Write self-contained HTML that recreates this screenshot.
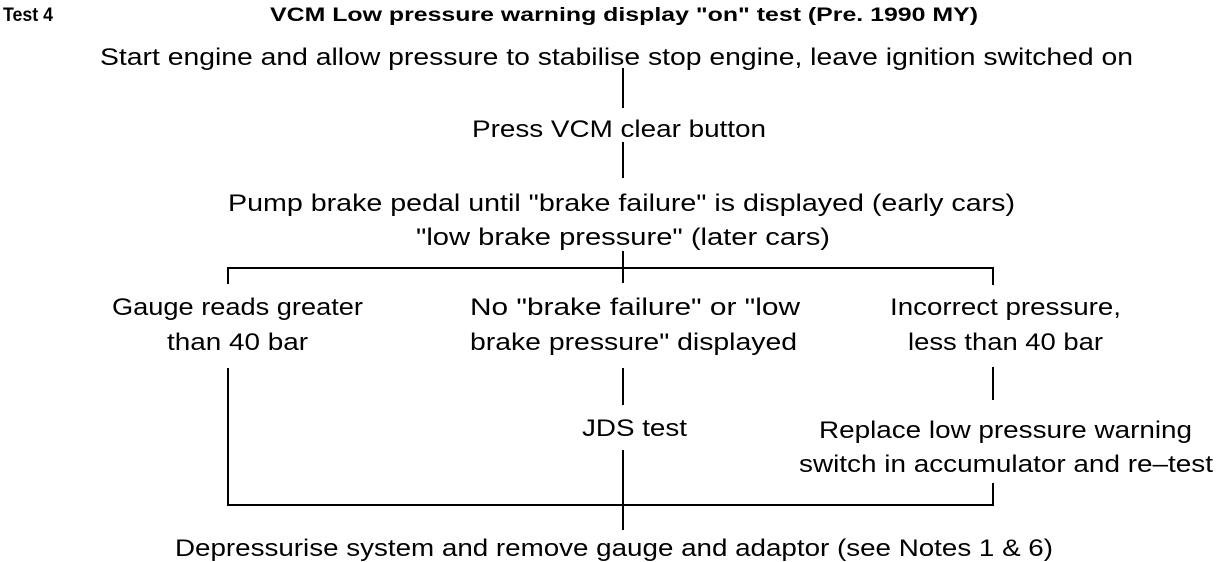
<!DOCTYPE html>
<html><head><meta charset="utf-8"><style>
html,body{margin:0;padding:0;background:#fff;}
svg{display:block;}
text{font-family:"Liberation Sans",sans-serif;font-size:24px;fill:#000;}
.b{font-weight:bold;font-size:19px;}
</style></head><body>
<svg width="1216" height="562" viewBox="0 0 1216 562" xmlns="http://www.w3.org/2000/svg">
<text class="b" x="3" y="21" textLength="50" lengthAdjust="spacingAndGlyphs">Test 4</text>
<text class="b" x="270" y="21" textLength="708" lengthAdjust="spacingAndGlyphs">VCM Low pressure warning display "on" test (Pre. 1990 MY)</text>
<text x="100" y="65" textLength="1033" lengthAdjust="spacingAndGlyphs">Start engine and allow pressure to stabilise stop engine, leave ignition switched on</text>
<text x="472" y="137" textLength="294" lengthAdjust="spacingAndGlyphs">Press VCM clear button</text>
<text x="228" y="211" textLength="787" lengthAdjust="spacingAndGlyphs">Pump brake pedal until "brake failure" is displayed (early cars)</text>
<text x="416" y="245" textLength="414" lengthAdjust="spacingAndGlyphs">"low brake pressure" (later cars)</text>
<text x="112" y="315" textLength="251" lengthAdjust="spacingAndGlyphs">Gauge reads greater</text>
<text x="167" y="350" textLength="141" lengthAdjust="spacingAndGlyphs">than 40 bar</text>
<text x="470" y="315" textLength="330" lengthAdjust="spacingAndGlyphs">No "brake failure" or "low</text>
<text x="470" y="350" textLength="327" lengthAdjust="spacingAndGlyphs">brake pressure" displayed</text>
<text x="890" y="315" textLength="231" lengthAdjust="spacingAndGlyphs">Incorrect pressure,</text>
<text x="908" y="350" textLength="195" lengthAdjust="spacingAndGlyphs">less than 40 bar</text>
<text x="582" y="436" textLength="105" lengthAdjust="spacingAndGlyphs">JDS test</text>
<text x="819" y="438" textLength="373" lengthAdjust="spacingAndGlyphs">Replace low pressure warning</text>
<text x="799" y="472" textLength="414" lengthAdjust="spacingAndGlyphs">switch in accumulator and re–test</text>
<text x="175" y="556" textLength="878" lengthAdjust="spacingAndGlyphs">Depressurise system and remove gauge and adaptor (see Notes 1 &amp; 6)</text>
<g stroke="#000" stroke-width="2" fill="none">
<line x1="623" y1="68" x2="623" y2="108"/>
<line x1="623" y1="142" x2="623" y2="178"/>
<line x1="623" y1="251" x2="623" y2="283"/>
<polyline points="228,284 228,268 993,268 993,285"/>
<line x1="623" y1="368" x2="623" y2="405"/>
<line x1="623" y1="450" x2="623" y2="530"/>
<line x1="993" y1="367" x2="993" y2="400"/>
<polyline points="228,368 228,505 993,505 993,483"/>
</g>
</svg>
</body></html>
